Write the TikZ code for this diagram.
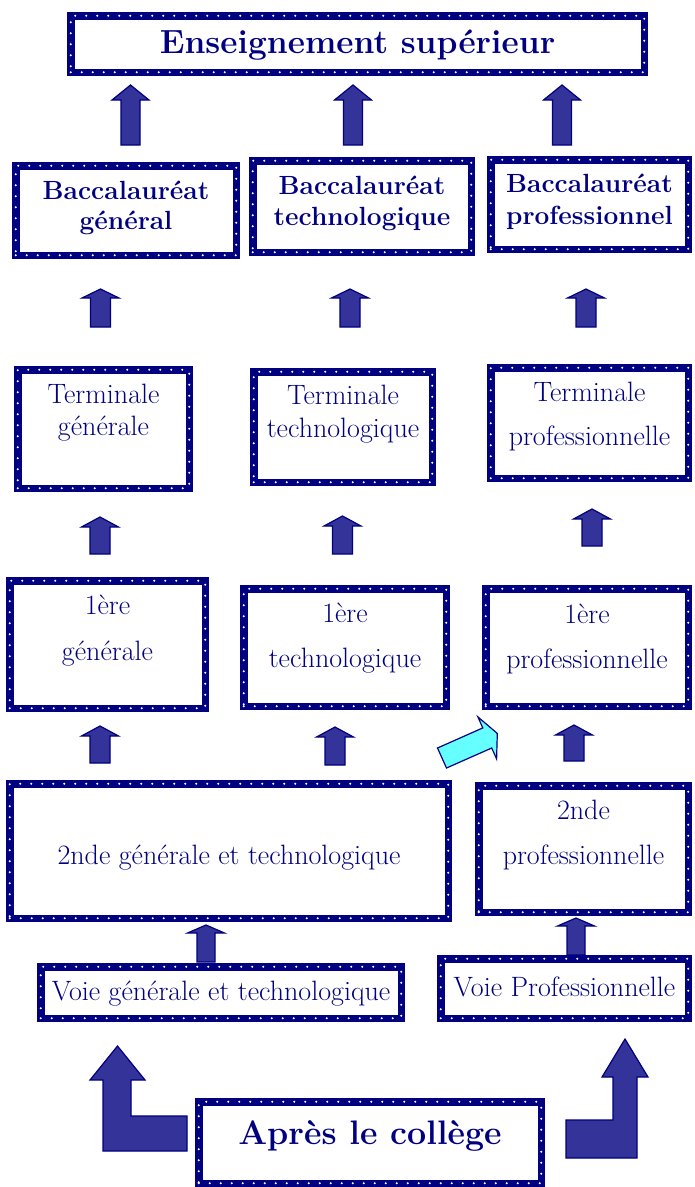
\documentclass[tikz,border=0pt]{standalone}
\usepackage{fontspec}
\definecolor{navy}{RGB}{0,0,128}
\definecolor{arrowfill}{RGB}{51,51,153}
\definecolor{cyanfill}{RGB}{102,255,255}
\tikzset{
  box/.style={draw=navy, line width=7.5pt, fill=white, inner sep=0pt,
    postaction={draw=white, fill=none, line width=2.3pt, line cap=round, dash pattern=on 0pt off 11pt}},
  txt/.style={text=navy, align=center, inner sep=0pt},
  reg/.style={txt, font=\fontsize{28}{#1}\selectfont},
  reg/.default=30,
  bld/.style={txt, font=\fontsize{26.3}{#1}\selectfont\bfseries},
  bld/.default=30,
  blockarrow/.style={fill=arrowfill, draw=navy, line width=1.2pt, line join=miter},
}
\newcommand{\uparrowblk}[6]{%
  \draw[blockarrow] (#1,#2) -- (#1+#5,#3) -- (#1+#6,#3) -- (#1+#6,#4) -- (#1-#6,#4) -- (#1-#6,#3) -- (#1-#5,#3) -- cycle;}
\begin{document}
\begin{tikzpicture}[x=1pt,y=-1pt]
\useasboundingbox (0,0) rectangle (694,1187);
% arrows
\uparrowblk{130.5}{85}{100}{145}{18.5}{9.5}
\uparrowblk{353}{85}{100}{145}{18.5}{9.5}
\uparrowblk{562}{85}{100}{145}{18.5}{9.5}
\uparrowblk{100.5}{289}{298}{327}{18.5}{10}
\uparrowblk{350}{289}{298}{327}{18.5}{10}
\uparrowblk{586}{289}{298}{327}{18.5}{10}
\uparrowblk{100}{517}{527}{554}{18.5}{10}
\uparrowblk{342.5}{516}{526}{554}{18.5}{10}
\uparrowblk{592}{509}{519}{546}{18.5}{10}
\uparrowblk{100}{726}{736}{763}{18.5}{10}
\uparrowblk{335}{727}{737}{765}{18.5}{10}
\uparrowblk{574}{725}{735}{761}{18.5}{10}
\uparrowblk{206}{925}{933}{962}{18.5}{9}
\uparrowblk{576}{918}{926}{955}{18.5}{9}
% diagonal cyan arrow
\draw[blockarrow, fill=cyanfill] (437.5,748) -- (482.8,727.9) -- (477.9,716.9) -- (497.3,733.4) -- (496.6,758.9) -- (491.7,748) -- (446.5,768) -- cycle;
% L arrows
\draw[blockarrow] (117.5,1046) -- (145,1080) -- (131,1080) -- (131,1116) -- (187,1116) -- (187,1151) -- (103,1151) -- (103,1080) -- (90,1080) -- cycle;
\draw[blockarrow] (625,1039) -- (648,1077) -- (637,1077) -- (637,1158) -- (566,1158) -- (566,1120) -- (613,1120) -- (613,1077) -- (602,1077) -- cycle;
% boxes
\node[box, minimum width=573.5pt, minimum height=56.5pt] (title) at (357.5,44) {};
\node[box, minimum width=220.5pt, minimum height=89.5pt] (bacg) at (126,210.5) {};
\node[box, minimum width=218.5pt, minimum height=91.5pt] (bact) at (362,206.5) {};
\node[box, minimum width=197.5pt, minimum height=89.5pt] (bacp) at (589.5,204.5) {};
\node[box, minimum width=171.5pt, minimum height=118.5pt] (termg) at (103.5,429) {};
\node[box, minimum width=178.5pt, minimum height=110.5pt] (termt) at (343,427) {};
\node[box, minimum width=197.5pt, minimum height=110.5pt] (termp) at (589.5,423) {};
\node[box, minimum width=195.5pt, minimum height=127.5pt] (preg) at (107.5,644.5) {};
\node[box, minimum width=202.5pt, minimum height=117.5pt] (pret) at (345,647.5) {};
\node[box, minimum width=202.5pt, minimum height=117.5pt] (prep) at (587,647.5) {};
\node[box, minimum width=438.5pt, minimum height=134.5pt] (secg) at (229,851) {};
\node[box, minimum width=209.5pt, minimum height=126.5pt] (secp) at (583.5,849) {};
\node[box, minimum width=360.5pt, minimum height=51.5pt] (voieg) at (221,992.5) {};
\node[box, minimum width=247.5pt, minimum height=59.5pt] (voiep) at (564.5,988.5) {};
\node[box, minimum width=342.5pt, minimum height=81.5pt] (apres) at (370,1142.5) {};
% texts
\node[txt, font=\fontsize{33.5}{36}\selectfont\bfseries] (ttitle) at (357.5,45) {Enseignement supérieur};
\node[bld=30] (tbacg) at (126,208) {Baccalauréat\\général};
\node[bld=31] (tbact) at (362,203.5) {Baccalauréat\\technologique};
\node[bld=32] (tbacp) at (589.5,202) {Baccalauréat\\professionnel};
\node[reg=32] (ttermg) at (103.5,413) {Terminale\\générale};
\node[reg=33] (ttermt) at (343,414.5) {Terminale\\technologique};
\node[reg=44] (ttermp) at (589.5,417) {Terminale\\professionnelle};
\node[reg=46] (tpreg) at (107.5,631) {1ère\\générale};
\node[reg=45] (tpret) at (345,638.5) {1ère\\technologique};
\node[reg=45] (tprep) at (587,638.5) {1ère\\professionnelle};
\node[reg] (tsecg) at (229,858) {2nde générale et technologique};
\node[reg=45] (tsecp) at (583.5,835.5) {2nde\\professionnelle};
\node[reg] (tvoieg) at (221,994) {Voie générale et technologique};
\node[reg] (tvoiep) at (564.5,987) {Voie Professionnelle};
\node[txt, font=\fontsize{34}{36}\selectfont\bfseries] (tapres) at (370,1136) {Après le collège};
\end{tikzpicture}
\end{document}
